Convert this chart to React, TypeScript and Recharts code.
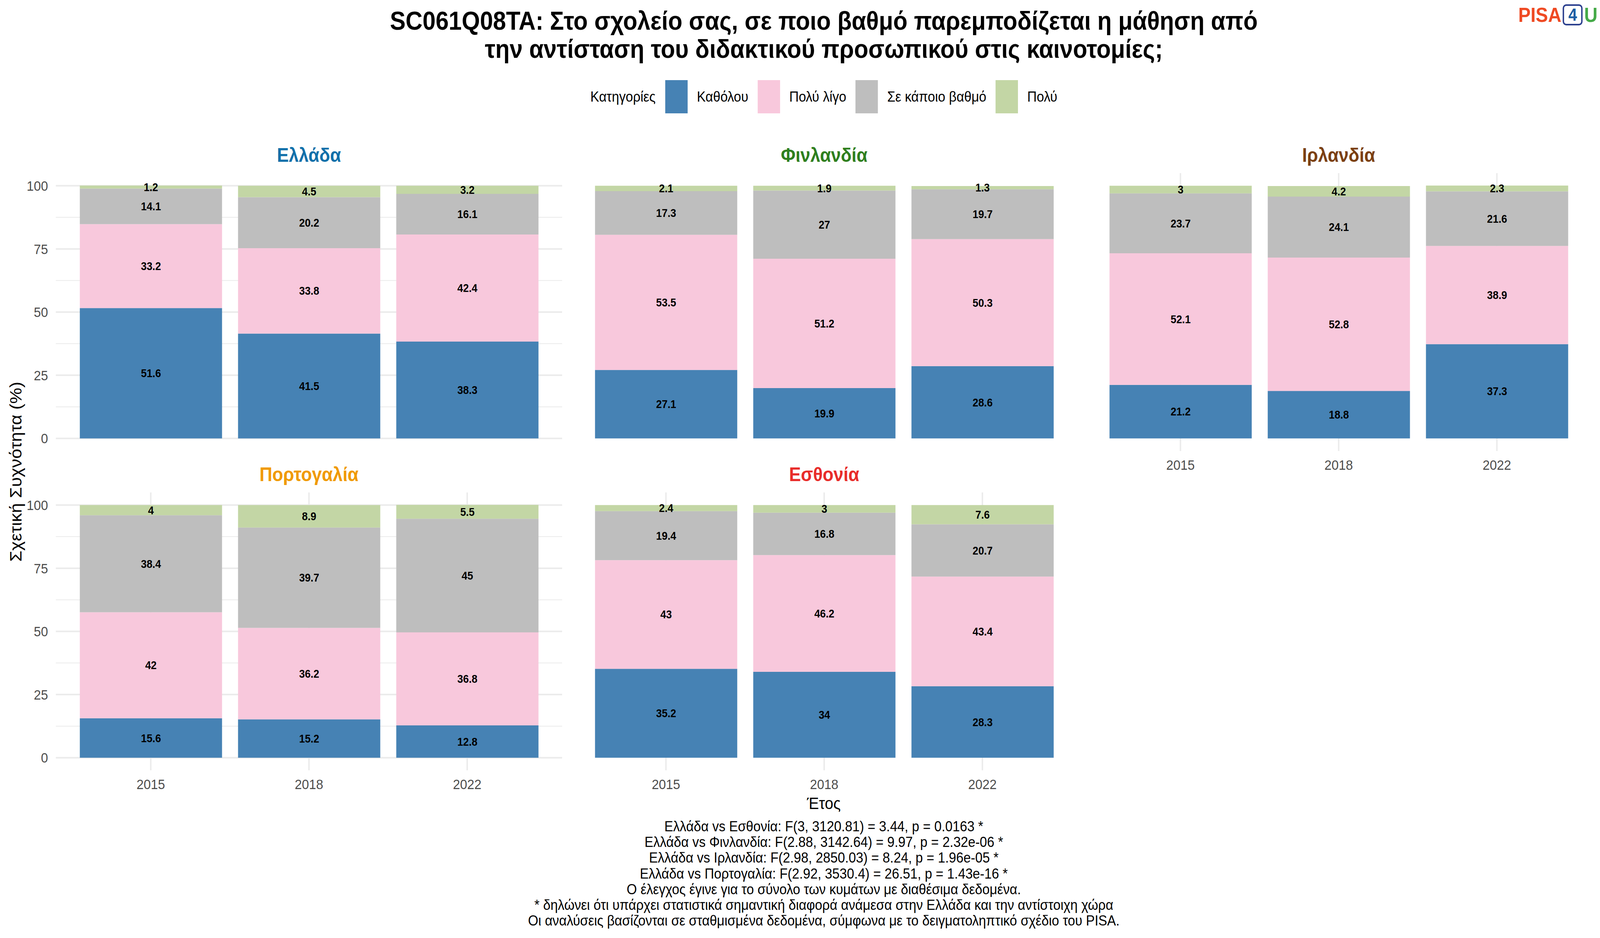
import React from 'react';
import { BarChart, Bar, XAxis, YAxis, CartesianGrid, LabelList } from 'recharts';

// survey waves and response categories
const years = ['2015', '2018', '2022'];
const categories = ['Καθόλου', 'Πολύ λίγο', 'Σε κάποιο βαθμό', 'Πολύ'];
const categoryColors = ['#4682B4', '#F8C8DC', '#BEBEBE', '#C3D6A5'];

// one row per category, one value per year (%)
const greece = [
  [51.6, 41.5, 38.3],
  [33.2, 33.8, 42.4],
  [14.1, 20.2, 16.1],
  [1.2, 4.5, 3.2],
];
const finland = [
  [27.1, 19.9, 28.6],
  [53.5, 51.2, 50.3],
  [17.3, 27, 19.7],
  [2.1, 1.9, 1.3],
];
const ireland = [
  [21.2, 18.8, 37.3],
  [52.1, 52.8, 38.9],
  [23.7, 24.1, 21.6],
  [3, 4.2, 2.3],
];
const portugal = [
  [15.6, 15.2, 12.8],
  [42, 36.2, 36.8],
  [38.4, 39.7, 45],
  [4, 8.9, 5.5],
];
const estonia = [
  [35.2, 34, 28.3],
  [43, 46.2, 43.4],
  [19.4, 16.8, 20.7],
  [2.4, 3, 7.6],
];

const yTicks = [0, 25, 50, 75, 100];
const yMinorTicks = [12.5, 37.5, 62.5, 87.5];

const footnotes = [
  'Ελλάδα vs Εσθονία: F(3, 3120.81) = 3.44, p = 0.0163 *',
  'Ελλάδα vs Φινλανδία: F(2.88, 3142.64) = 9.97, p = 2.32e-06 *',
  'Ελλάδα vs Ιρλανδία: F(2.98, 2850.03) = 8.24, p = 1.96e-05 *',
  'Ελλάδα vs Πορτογαλία: F(2.92, 3530.4) = 26.51, p = 1.43e-16 *',
  'Ο έλεγχος έγινε για το σύνολο των κυμάτων με διαθέσιμα δεδομένα.',
  '* δηλώνει ότι υπάρχει στατιστικά σημαντική διαφορά ανάμεσα στην Ελλάδα και την αντίστοιχη χώρα',
  'Οι αναλύσεις βασίζονται σε σταθμισμένα δεδομένα, σύμφωνα με το δειγματοληπτικό σχέδιο του PISA.',
];

const FONT = '"Liberation Sans", Arial, Helvetica, sans-serif';
const PAGE_W = 4500;
const PAGE_H = 2400;
const PANEL_W = 1424;
const PANEL_H = 711;
const Y_W = 160;
const X_H = 90;
const CENTER_X = 2317;
const GRID = '#EBEBEB';

const panels = [
  { name: 'Ελλάδα', color: '#1170AA', values: greece, left: 157, top: 443, showX: false, showY: true },
  { name: 'Φινλανδία', color: '#2F7F1E', values: finland, left: 1606, top: 443, showX: false, showY: false },
  { name: 'Ιρλανδία', color: '#7B4012', values: ireland, left: 3053, top: 443, showX: true, showY: false },
  { name: 'Πορτογαλία', color: '#F09A00', values: portugal, left: 157, top: 1260, showX: true, showY: true },
  { name: 'Εσθονία', color: '#E82C2A', values: estonia, left: 1606, top: 1260, showX: true, showY: false },
];

function Panel({ name, color, values, left, top, showX, showY }: any) {
  const data = years.map((year, i) => {
    const row: any = { year };
    categories.forEach((c, k) => {
      row[c] = values[k][i];
    });
    return row;
  });
  return (
    <>
      <div
        style={{
          position: 'absolute',
          left,
          width: PANEL_W,
          top: top - 76,
          height: 60,
          lineHeight: '60px',
          textAlign: 'center',
          fontSize: 50,
          fontWeight: 'bold',
          color,
        }}
      >
        {name}
      </div>
      <div style={{ position: 'absolute', left: left - Y_W, top }}>
        <BarChart
          width={Y_W + PANEL_W}
          height={PANEL_H + X_H}
          data={data}
          margin={{ top: 0, right: 0, bottom: 0, left: 0 }}
        >
          <CartesianGrid
            stroke={GRID}
            strokeWidth={2}
            vertical={false}
            horizontalValues={yMinorTicks}
            syncWithTicks
          />
          <CartesianGrid stroke={GRID} strokeWidth={4} syncWithTicks />
          <XAxis
            dataKey="year"
            padding={{ left: 44.5, right: 44.5 }}
            axisLine={false}
            tickLine={false}
            tickSize={0}
            tickMargin={22}
            height={X_H}
            interval={0}
            tick={showX ? { fill: '#4D4D4D', fontSize: 36 } : false}
          />
          <YAxis
            type="number"
            domain={[-5, 105]}
            ticks={yTicks}
            allowDataOverflow
            axisLine={false}
            tickLine={false}
            tickSize={0}
            tickMargin={22}
            width={Y_W}
            tick={showY ? { fill: '#4D4D4D', fontSize: 36 } : false}
          />
          {categories.map((c, k) => (
            <Bar key={c} dataKey={c} stackId="s" fill={categoryColors[k]} barSize={400} isAnimationActive={false}>
              <LabelList dataKey={c} position="center" fill="#000000" fontSize={29} fontWeight="bold" />
            </Bar>
          ))}
        </BarChart>
      </div>
    </>
  );
}

export default function App() {
  // fit the 4500x2400 page into whatever viewport the browser actually has
  const vw = typeof window !== 'undefined' ? document.documentElement.clientWidth || window.innerWidth : PAGE_W;
  const vh = typeof window !== 'undefined' ? window.innerHeight : PAGE_H;
  const sx = Math.min(1, vw / PAGE_W);
  const sy = Math.min(1, vh / PAGE_H);
  if (typeof document !== 'undefined') document.body.style.overflow = 'hidden';

  return (
    <div
      style={{
        position: 'absolute',
        left: 0,
        top: 0,
        width: PAGE_W,
        height: PAGE_H,
        background: '#FFFFFF',
        fontFamily: FONT,
        color: '#000000',
        overflow: 'hidden',
        transform: `scale(${sx}, ${sy})`,
        transformOrigin: '0 0',
      }}
    >
      {/* title */}
      <div
        style={{
          position: 'absolute',
          left: CENTER_X - 1600,
          width: 3200,
          top: 17,
          textAlign: 'center',
          fontSize: 66,
          lineHeight: '72px',
          fontWeight: 'bold',
        }}
      >
        SC061Q08TA: Στο σχολείο σας, σε ποιο βαθμό παρεμποδίζεται η μάθηση από
        <br />
        την αντίσταση του διδακτικού προσωπικού στις καινοτομίες;
      </div>

      {/* logo */}
      <div
        style={{
          position: 'absolute',
          left: 4270,
          top: 12,
          height: 52,
          display: 'flex',
          alignItems: 'center',
          fontWeight: 'bold',
          fontSize: 52,
          lineHeight: '52px',
        }}
      >
        <span style={{ color: '#EF4A23' }}>PISA</span>
        <span
          style={{
            marginLeft: 4,
            width: 48,
            height: 46,
            border: '4px solid #2B3F8E',
            borderRadius: 10,
            color: '#1C5DA3',
            fontSize: 44,
            lineHeight: '46px',
            textAlign: 'center',
          }}
        >
          4
        </span>
        <span style={{ color: '#45AA48', marginLeft: 4 }}>U</span>
      </div>

      {/* legend */}
      <div
        style={{
          position: 'absolute',
          left: CENTER_X - 1000,
          width: 2000,
          top: 205,
          height: 85,
          display: 'flex',
          justifyContent: 'center',
          alignItems: 'center',
          fontSize: 37,
        }}
      >
        <span style={{ marginRight: 27 }}>Κατηγορίες</span>
        {categories.map((c, k) => (
          <React.Fragment key={c}>
            <span style={{ width: 63, height: 85, background: categoryColors[k], display: 'inline-block' }} />
            <span style={{ marginLeft: 26, marginRight: k < categories.length - 1 ? 26 : 0 }}>{c}</span>
          </React.Fragment>
        ))}
      </div>

      {panels.map((p) => (
        <Panel key={p.name} {...p} />
      ))}

      {/* axis titles */}
      <div
        style={{
          position: 'absolute',
          left: 44,
          top: 1207,
          transform: 'translate(-50%, -50%) rotate(-90deg)',
          whiteSpace: 'nowrap',
          fontSize: 46,
        }}
      >
        Σχετική Συχνότητα (%)
      </div>
      <div
        style={{
          position: 'absolute',
          left: CENTER_X - 300,
          width: 600,
          top: 2028,
          height: 54,
          lineHeight: '54px',
          textAlign: 'center',
          fontSize: 43,
        }}
      >
        Έτος
      </div>

      {/* caption */}
      <div
        style={{
          position: 'absolute',
          left: CENTER_X - 1600,
          width: 3200,
          top: 2095,
          textAlign: 'center',
          fontSize: 37,
          lineHeight: '40.2px',
        }}
      >
        {footnotes.map((f) => (
          <div key={f}>{f}</div>
        ))}
      </div>
    </div>
  );
}
